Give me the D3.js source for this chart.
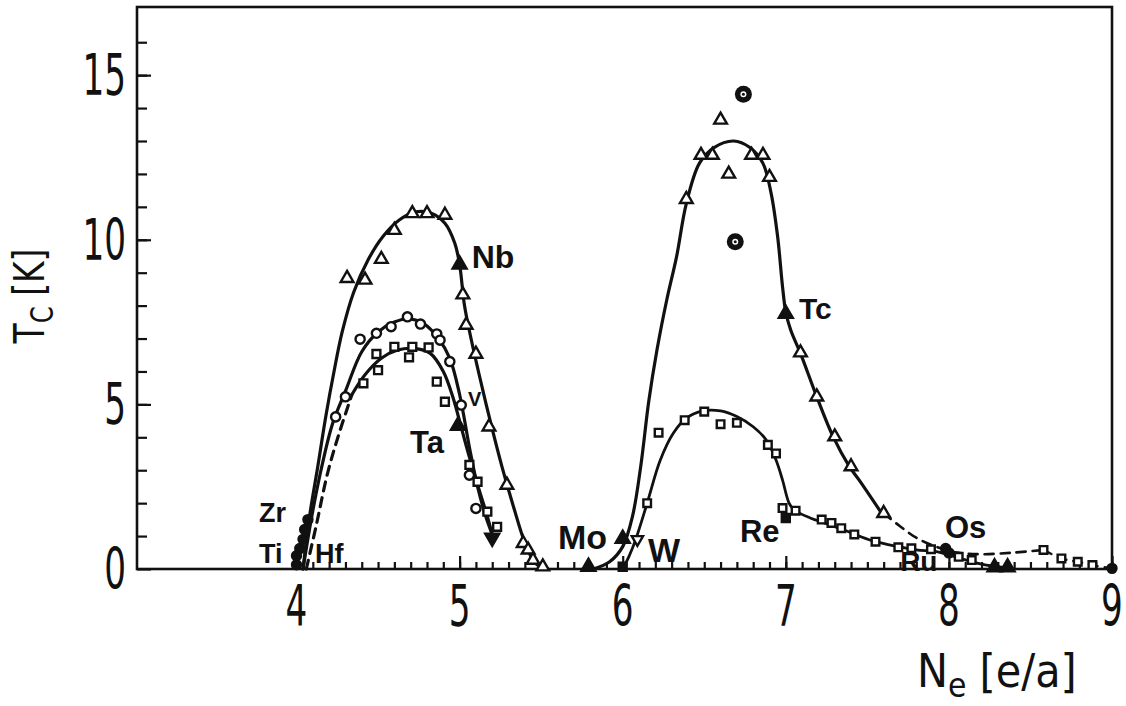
<!DOCTYPE html>
<html><head><meta charset="utf-8">
<script src="https://cdn.jsdelivr.net/npm/d3@7"></script>
<style>body{margin:0;background:#fff}svg{display:block}</style>
</head><body>
<svg id="c" width="1126" height="706"></svg>
<script>
// ---------- tick values ----------
const xMajorTicks = [4, 5, 6, 7, 8, 9];
const xMinorTicks = d3.range(40, 91).map(d => d / 10);
const yMajorTicks = [0, 5, 10, 15];
const yMinorTicks = d3.range(1, 17);
const xTickLabels = ["4", "5", "6", "7", "8", "9"];
const yTickLabels = ["0", "5", "10", "15"];

// ---------- data (Ne [e/a], Tc [K]) ----------
const nbTriangles = [[4.31,8.83],[4.42,8.78],[4.52,9.41],[4.60,10.29],[4.71,10.80],[4.80,10.80],[4.91,10.75],[5.02,8.33],[5.04,7.41],[5.10,6.53],[5.18,4.32],[5.29,2.55],[5.39,0.78],[5.42,0.58],[5.45,0.27],[5.51,0.07]];
const nbCurve = [[4.04,0],[4.08,1.6],[4.13,3.1],[4.18,4.65],[4.23,6.0],[4.28,7.2],[4.35,8.4],[4.44,9.4],[4.53,10.1],[4.63,10.6],[4.73,10.85],[4.83,10.8],[4.91,10.5],[4.97,9.9],[5.00,9.25],[5.03,8.0],[5.07,7.0],[5.12,5.9],[5.19,4.45],[5.26,3.1],[5.33,1.9],[5.40,0.8],[5.46,0.2],[5.52,0]];

const vCircles = [[4.24,4.62],[4.30,5.23],[4.39,6.98],[4.49,7.16],[4.58,7.36],[4.68,7.66],[4.76,7.44],[4.86,7.14],[4.88,6.95],[4.94,6.30],[5.01,4.98],[5.06,2.85],[5.10,1.84]];
const vCurve = [[4.04,0],[4.09,1.5],[4.15,3.0],[4.22,4.4],[4.30,5.4],[4.40,6.6],[4.50,7.2],[4.60,7.5],[4.69,7.6],[4.78,7.45],[4.87,7.0],[4.94,6.4],[5.00,5.3],[5.06,3.7],[5.11,2.5],[5.16,1.6],[5.20,1.05]];

const taSquares = [[4.41,5.64],[4.50,6.04],[4.49,6.53],[4.60,6.75],[4.71,6.75],[4.69,6.43],[4.81,6.73],[4.86,5.69],[4.91,5.08],[5.06,3.16],[5.11,2.65],[5.17,1.74],[5.23,1.28]];
const taDashed = [[4.06,0],[4.12,1.3],[4.19,2.9],[4.26,4.1],[4.34,5.3]];
const taCurve = [[4.34,5.3],[4.42,5.9],[4.52,6.4],[4.62,6.65],[4.72,6.7],[4.82,6.55],[4.90,6.0],[4.96,5.2],[5.01,4.3],[5.06,3.4],[5.12,2.4],[5.17,1.6],[5.20,1.05]];

const tcTriangles = [[6.39,11.23],[6.48,12.57],[6.55,12.57],[6.60,13.64],[6.65,12.0],[6.79,12.57],[6.86,12.57],[6.90,11.9],[7.09,6.57],[7.19,5.23],[7.30,4.02],[7.40,3.11],[7.60,1.69]];
const tcCurve = [[5.82,0],[5.92,0.22],[6.00,0.68],[6.06,1.6],[6.11,3.1],[6.16,5.1],[6.21,6.65],[6.27,8.17],[6.33,9.48],[6.39,11.1],[6.47,12.32],[6.56,12.8],[6.68,13.0],[6.78,12.8],[6.86,12.32],[6.91,11.41],[6.95,10.09],[6.98,8.57],[7.00,7.8],[7.03,7.26],[7.09,6.55],[7.19,5.23],[7.29,4.02],[7.39,3.11],[7.45,2.7],[7.58,1.75]];
const tcDashed = [[7.60,1.69],[7.70,1.3],[7.80,0.95],[7.92,0.68],[8.05,0.5],[8.20,0.45],[8.40,0.5],[8.58,0.58]];

const reSquares = [[6.15,2.0],[6.22,4.14],[6.38,4.52],[6.50,4.78],[6.60,4.40],[6.70,4.44],[6.89,3.77],[6.94,3.51],[6.98,1.85],[7.06,1.77],[7.22,1.50],[7.28,1.40],[7.34,1.24],[7.42,1.05],[7.55,0.83],[7.69,0.66],[7.77,0.63],[7.89,0.60],[8.06,0.37],[8.14,0.27]];
const reCurve = [[6.00,0],[6.04,0.4],[6.08,0.9],[6.15,2.0],[6.23,3.3],[6.31,4.12],[6.39,4.58],[6.49,4.8],[6.60,4.8],[6.70,4.63],[6.80,4.32],[6.88,3.92],[6.94,3.31],[6.98,2.7],[7.02,2.0],[7.05,1.8],[7.15,1.55],[7.25,1.38],[7.35,1.2],[7.45,1.0],[7.55,0.83],[7.69,0.68],[7.80,0.58],[7.93,0.52],[8.05,0.35],[8.20,0.15],[8.36,0.03]];

const osSquares = [[8.58,0.58],[8.69,0.32],[8.79,0.22],[8.88,0.12]];
const osDashed = [[8.58,0.58],[8.69,0.32],[8.79,0.22],[8.90,0.10],[9.00,0.02]];

const openDownTriangles = [[6.09,0.90]];
const filledUpTriangles = [[5.00,9.25],[4.99,4.35],[7.00,7.75],[6.00,0.92],[5.79,0.07],[8.28,0.05],[8.36,0.05]];
const filledDownTriangles = [[5.20,0.95]];
const filledCircles = [[4.00,0.13],[4.00,0.40],[4.02,0.62],[4.04,0.90],[4.05,1.20],[4.07,1.50],[7.98,0.62],[8.00,0.49],[9.00,0.02]];
const filledSquares = [[7.00,1.55],[6.00,0.07]];
const dottedCircles = [[6.74,14.42],[6.69,9.94]];

// element labels and anchors (data units)
const elementNames = ["Nb","V","Ta","Zr","Ti","Hf","Mo","W","Re","Tc","Os","Ru"];
const elementAnchors = [[5.074,9.14],[5.051,4.95],[4.696,3.52],[3.77,1.43],[3.77,0.18],[4.113,0.18],[5.603,0.61],[6.155,0.21],[6.719,0.82],[7.081,7.59],[7.976,0.94],[7.701,-0.06]];
const elementSizes = [32,20,31,27,27,27,34,34,31,30,31,28];

// ---------- layout ----------
const frame = {l:137, r:1112, t:7, b:569};
const x = d3.scaleLinear().domain([3.022, 9]).range([frame.l, frame.r]);
const y = d3.scaleLinear().domain([0, 17.07]).range([frame.b, frame.t]);
const svg = d3.select("#c");
const ink = "#111";

// frame
svg.append("rect").attr("x", frame.l).attr("y", frame.t)
  .attr("width", frame.r - frame.l).attr("height", frame.b - frame.t)
  .attr("fill", "none").attr("stroke", ink).attr("stroke-width", 2.6);

// ticks (inward)
function tickAxis(axis, tr){
  const g = svg.append("g").attr("transform", tr).call(axis);
  g.select(".domain").remove();
  g.selectAll("line").attr("stroke", ink).attr("stroke-width", 2.2);
  g.selectAll("text").remove();
}
tickAxis(d3.axisBottom(x).tickValues(xMinorTicks).tickSize(-7), `translate(0,${frame.b})`);
tickAxis(d3.axisBottom(x).tickValues(xMajorTicks).tickSize(-13), `translate(0,${frame.b})`);
tickAxis(d3.axisLeft(y).tickValues(yMinorTicks).tickSize(-10), `translate(${frame.l},0)`);
tickAxis(d3.axisLeft(y).tickValues(yMajorTicks).tickSize(-14), `translate(${frame.l},0)`);

// tick labels
const tickFont = "'DejaVu Sans Condensed','DejaVu Sans',sans-serif";
svg.append("g").selectAll("g").data(xMajorTicks).join("g")
  .attr("transform", d => `translate(${x(d)},626) scale(0.68,1)`)
  .append("text").attr("text-anchor","middle").attr("font-family",tickFont)
  .attr("font-size",56).attr("fill",ink).text((d,i) => xTickLabels[i]);
svg.append("g").selectAll("g").data(yMajorTicks).join("g")
  .attr("transform", d => `translate(126,${y(d)+20}) scale(0.68,1)`)
  .append("text").attr("text-anchor","end").attr("font-family",tickFont)
  .attr("font-size",56).attr("fill",ink).text((d,i) => yTickLabels[i]);

// axis titles
const yt = svg.append("g").attr("transform","translate(44,296) rotate(-90) scale(0.85,1)")
  .append("text").attr("text-anchor","middle").attr("font-family",tickFont)
  .attr("font-size",43).attr("fill",ink);
yt.append("tspan").text("T");
yt.append("tspan").attr("font-size",32).attr("dy",9).text("C");
yt.append("tspan").attr("dy",-9).text(" [K]");

const xt = svg.append("g").attr("transform","translate(917,687) scale(0.98,1)")
  .append("text").attr("font-family",tickFont).attr("font-size",47).attr("fill",ink);
xt.append("tspan").text("N");
xt.append("tspan").attr("font-size",34).attr("dy",10).text("e");
xt.append("tspan").attr("dy",-10).text(" [e/a]");

// curves
const line = d3.line().x(d => x(d[0])).y(d => y(d[1])).curve(d3.curveCatmullRom.alpha(0.5));
function drawCurve(data, dashed, w){
  svg.append("path").attr("d", line(data)).attr("fill","none")
    .attr("stroke", ink).attr("stroke-width", w || 3.2)
    .attr("stroke-linecap","round")
    .attr("stroke-dasharray", dashed ? "9,7" : null);
}
drawCurve(nbCurve);
drawCurve(vCurve);
drawCurve(taCurve);
drawCurve(taDashed, true);
drawCurve(tcCurve);
drawCurve(tcDashed, true, 2.6);
drawCurve(reCurve, false, 2.8);
drawCurve(osDashed, true, 2.4);

// markers
function markers(data, type, size, filled, rot){
  svg.append("g").selectAll("path").data(data).join("path")
    .attr("transform", d => `translate(${x(d[0])},${y(d[1])})${rot ? " rotate(180)" : ""}`)
    .attr("d", d3.symbol().type(type).size(size)())
    .attr("fill", filled ? ink : "#fff").attr("stroke", ink).attr("stroke-width", 2.4);
}
markers(nbTriangles, d3.symbolTriangle, 70, false);
markers(tcTriangles, d3.symbolTriangle, 70, false);
markers(vCircles, d3.symbolCircle, 66, false);
markers(taSquares, d3.symbolSquare, 62, false);
markers(reSquares, d3.symbolSquare, 58, false);
markers(osSquares, d3.symbolSquare, 58, false);
markers(openDownTriangles, d3.symbolTriangle, 55, false, true);
markers(filledUpTriangles, d3.symbolTriangle, 85, true);
markers(filledDownTriangles, d3.symbolTriangle, 85, true, true);
markers(filledCircles, d3.symbolCircle, 64, true);
markers(filledSquares, d3.symbolSquare, 64, true);

const dc = svg.append("g").selectAll("g").data(dottedCircles).join("g")
  .attr("transform", d => `translate(${x(d[0])},${y(d[1])})`);
dc.append("circle").attr("r", 8.5).attr("fill", ink);
dc.append("circle").attr("r", 3).attr("fill", "#fff");
dc.append("circle").attr("r", 1.5).attr("fill", ink);

// element labels
svg.append("g").selectAll("text").data(elementNames).join("text")
  .attr("x", (d,i) => x(elementAnchors[i][0]))
  .attr("y", (d,i) => y(elementAnchors[i][1]))
  .attr("font-family","'Liberation Sans',Arial,sans-serif").attr("font-weight","bold")
  .attr("font-size", (d,i) => elementSizes[i]).attr("fill", ink)
  .text(d => d);
</script>
</body></html>
